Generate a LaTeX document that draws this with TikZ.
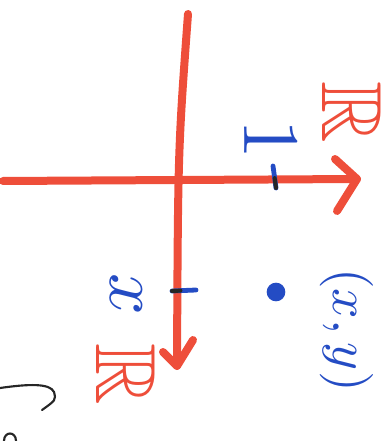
\documentclass[tikz,border=0pt]{standalone}
\usepackage{amsmath,amssymb}
\usepackage{tikz}
\usetikzlibrary{positioning,calc}
\definecolor{penred}{RGB}{238,78,58}
\definecolor{penblue}{RGB}{36,76,196}

\begin{document}
\begin{tikzpicture}[x=0.75pt,y=-0.75pt,
		axis/.style={penred, line width=6pt, line cap=round, line join=round},
		bluemark/.style={penblue, line width=3.6pt, line cap=round},
		inkmark/.style={black!85, line width=3pt, line cap=round},
		setlabel/.style={rotate=-90, penred, inner sep=0pt, scale=6.4},
		comment/.style={rotate=-90, penblue, inner sep=0pt}]
		\useasboundingbox (0,0) rectangle (390,441);
		\coordinate (west) at (3,181);
		\coordinate (east) at (357,179);
		\coordinate (north) at (188,14);
		\coordinate (south) at (177,366);
		
		\draw [axis] (west) -- (east);
		\draw [axis] (north) .. controls (178,150) .. (south);
		\draw [axis] ([shift={(-22,-20)}]east) -- (east) -- ([shift={(-20,32)}]east);
		\draw [axis] ([shift={(-14,-14)}]south) -- (south) -- ([shift={(16,-26)}]south);
		
		\node [setlabel] (Rx) at (352,112) {$\mathbb{R}$};
		\node [setlabel] (Ry) at (126,374) {$\mathbb{R}$};
		
		% unit ticks
		\coordinate (tx1) at (273,166);
		\coordinate (tx2) at (276,188);
		\draw [bluemark] (tx1) -- (tx2);
		\draw [inkmark] ($(tx1)!0.55!(tx2)$) -- (tx2);
		\coordinate (ty1) at (172,291);
		\coordinate (ty2) at (196,290);
		\draw [bluemark] (ty1) -- (ty2);
		\draw [inkmark] (ty1) -- ($(ty1)!0.35!(ty2)$);
		\node [comment, scale=6] (one) at (271,140) {1};
		\node [comment, scale=5.5] (xval) at (126,294) {$x$};
		
		\node [circle, fill=penblue, inner sep=0pt, minimum size=14pt] (P) at (276,292) {};
		\node [comment, scale=4] (Plbl) at (347,330) {$(x,y)$};
		
		% stray pen marks
		\coordinate (s1) at (0,388);
		\coordinate (s2) at (42,410);
		\draw [inkmark, line width=1.6pt] (s1) .. controls (28,384) and (50,383) .. (54,392) .. controls (56,400) .. (s2);
		\coordinate (o1) at (4,441);
		\coordinate (o2) at (16,441);
		\draw [inkmark, line width=1.6pt] (o1) .. controls (4,431) and (16,431) .. (o2);
	\end{tikzpicture}
\end{document}
